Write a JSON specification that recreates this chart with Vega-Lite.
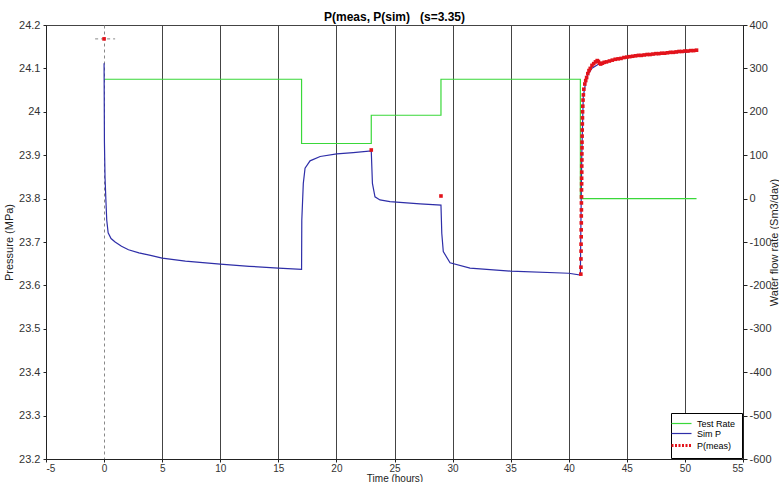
{
  "$schema": "https://vega.github.io/schema/vega-lite/v6.json",
  "autosize": {"type": "none"},
  "width": 697,
  "height": 434,
  "padding": {"left": 46, "top": 25, "right": 36, "bottom": 23},
  "background": "#ffffff",
  "title": {"text": "P(meas, P(sim)\u00a0\u00a0\u00a0(s=3.35)", "font": "Liberation Sans", "fontSize": 12, "fontWeight": "bold", "color": "#000000", "anchor": "middle", "offset": -5},
  "config": {
    "view": {"stroke": "#444444", "strokeWidth": 1},
    "axis": {"labelFont": "Liberation Sans", "labelFontSize": 11, "labelColor": "#333333", "titleFont": "Liberation Sans", "titleFontSize": 11, "titleFontWeight": "normal", "titleColor": "#222222", "domainColor": "#222222", "tickColor": "#222222", "tickSize": 4, "labelPadding": 2}
  },
  "datasets": {
    "rate": [
      {"t": 0, "q": 275, "s": "Test Rate"},
      {"t": 17, "q": 275, "s": "Test Rate"},
      {"t": 17, "q": 127, "s": "Test Rate"},
      {"t": 23, "q": 127, "s": "Test Rate"},
      {"t": 23, "q": 192, "s": "Test Rate"},
      {"t": 29, "q": 192, "s": "Test Rate"},
      {"t": 29, "q": 275, "s": "Test Rate"},
      {"t": 41, "q": 275, "s": "Test Rate"},
      {"t": 41, "q": 0, "s": "Test Rate"},
      {"t": 51, "q": 0, "s": "Test Rate"}
    ],
    "sim": [
      {"t": 0, "p": 24.112, "s": "Sim P"},
      {"t": 0.03, "p": 23.93, "s": "Sim P"},
      {"t": 0.08, "p": 23.85, "s": "Sim P"},
      {"t": 0.15, "p": 23.80, "s": "Sim P"},
      {"t": 0.23, "p": 23.75, "s": "Sim P"},
      {"t": 0.35, "p": 23.721, "s": "Sim P"},
      {"t": 0.6, "p": 23.708, "s": "Sim P"},
      {"t": 0.95, "p": 23.700, "s": "Sim P"},
      {"t": 1.5, "p": 23.690, "s": "Sim P"},
      {"t": 2.1, "p": 23.682, "s": "Sim P"},
      {"t": 3, "p": 23.675, "s": "Sim P"},
      {"t": 4, "p": 23.669, "s": "Sim P"},
      {"t": 5, "p": 23.663, "s": "Sim P"},
      {"t": 7, "p": 23.656, "s": "Sim P"},
      {"t": 10, "p": 23.649, "s": "Sim P"},
      {"t": 12.5, "p": 23.644, "s": "Sim P"},
      {"t": 15, "p": 23.640, "s": "Sim P"},
      {"t": 17, "p": 23.637, "s": "Sim P"},
      {"t": 17.02, "p": 23.75, "s": "Sim P"},
      {"t": 17.15, "p": 23.835, "s": "Sim P"},
      {"t": 17.3, "p": 23.870, "s": "Sim P"},
      {"t": 17.73, "p": 23.887, "s": "Sim P"},
      {"t": 18.6, "p": 23.897, "s": "Sim P"},
      {"t": 20.03, "p": 23.903, "s": "Sim P"},
      {"t": 21.45, "p": 23.906, "s": "Sim P"},
      {"t": 23, "p": 23.910, "s": "Sim P"},
      {"t": 23.1, "p": 23.835, "s": "Sim P"},
      {"t": 23.32, "p": 23.804, "s": "Sim P"},
      {"t": 23.75, "p": 23.797, "s": "Sim P"},
      {"t": 24.61, "p": 23.793, "s": "Sim P"},
      {"t": 27.2, "p": 23.788, "s": "Sim P"},
      {"t": 29, "p": 23.785, "s": "Sim P"},
      {"t": 29.07, "p": 23.72, "s": "Sim P"},
      {"t": 29.2, "p": 23.678, "s": "Sim P"},
      {"t": 29.78, "p": 23.652, "s": "Sim P"},
      {"t": 31.5, "p": 23.640, "s": "Sim P"},
      {"t": 35, "p": 23.633, "s": "Sim P"},
      {"t": 40, "p": 23.628, "s": "Sim P"},
      {"t": 41, "p": 23.624, "s": "Sim P"},
      {"t": 41.05, "p": 23.75, "s": "Sim P"},
      {"t": 41.12, "p": 23.90, "s": "Sim P"},
      {"t": 41.25, "p": 24.035, "s": "Sim P"},
      {"t": 41.54, "p": 24.081, "s": "Sim P"},
      {"t": 41.97, "p": 24.100, "s": "Sim P"},
      {"t": 42.69, "p": 24.112, "s": "Sim P"},
      {"t": 43.83, "p": 24.119, "s": "Sim P"},
      {"t": 44.98, "p": 24.126, "s": "Sim P"},
      {"t": 47.27, "p": 24.132, "s": "Sim P"},
      {"t": 50.15, "p": 24.138, "s": "Sim P"},
      {"t": 51, "p": 24.141, "s": "Sim P"}
    ],
    "meas": [
      {"t": 0, "p": 24.168, "s": "P(meas)"},
      {"t": 23, "p": 23.912, "s": "P(meas)"},
      {"t": 29, "p": 23.806, "s": "P(meas)"},
      {"t": 41.04, "p": 23.626, "s": "P(meas)"},
      {"t": 41.05, "p": 23.642, "s": "P(meas)"},
      {"t": 41.05, "p": 23.661, "s": "P(meas)"},
      {"t": 41.06, "p": 23.679, "s": "P(meas)"},
      {"t": 41.06, "p": 23.695, "s": "P(meas)"},
      {"t": 41.07, "p": 23.712, "s": "P(meas)"},
      {"t": 41.07, "p": 23.728, "s": "P(meas)"},
      {"t": 41.08, "p": 23.744, "s": "P(meas)"},
      {"t": 41.08, "p": 23.760, "s": "P(meas)"},
      {"t": 41.09, "p": 23.774, "s": "P(meas)"},
      {"t": 41.09, "p": 23.790, "s": "P(meas)"},
      {"t": 41.10, "p": 23.804, "s": "P(meas)"},
      {"t": 41.10, "p": 23.820, "s": "P(meas)"},
      {"t": 41.11, "p": 23.834, "s": "P(meas)"},
      {"t": 41.11, "p": 23.847, "s": "P(meas)"},
      {"t": 41.12, "p": 23.861, "s": "P(meas)"},
      {"t": 41.12, "p": 23.875, "s": "P(meas)"},
      {"t": 41.13, "p": 23.889, "s": "P(meas)"},
      {"t": 41.13, "p": 23.903, "s": "P(meas)"},
      {"t": 41.14, "p": 23.917, "s": "P(meas)"},
      {"t": 41.14, "p": 23.930, "s": "P(meas)"},
      {"t": 41.15, "p": 23.944, "s": "P(meas)"},
      {"t": 41.16, "p": 23.958, "s": "P(meas)"},
      {"t": 41.17, "p": 23.972, "s": "P(meas)"},
      {"t": 41.18, "p": 23.986, "s": "P(meas)"},
      {"t": 41.19, "p": 24.000, "s": "P(meas)"},
      {"t": 41.21, "p": 24.013, "s": "P(meas)"},
      {"t": 41.23, "p": 24.027, "s": "P(meas)"},
      {"t": 41.26, "p": 24.039, "s": "P(meas)"},
      {"t": 41.30, "p": 24.052, "s": "P(meas)"},
      {"t": 41.38, "p": 24.064, "s": "P(meas)"},
      {"t": 41.46, "p": 24.072, "s": "P(meas)"},
      {"t": 41.54, "p": 24.079, "s": "P(meas)"},
      {"t": 41.64, "p": 24.088, "s": "P(meas)"},
      {"t": 41.74, "p": 24.095, "s": "P(meas)"},
      {"t": 41.85, "p": 24.100, "s": "P(meas)"},
      {"t": 42.0, "p": 24.107, "s": "P(meas)"},
      {"t": 42.15, "p": 24.111, "s": "P(meas)"},
      {"t": 42.3, "p": 24.115, "s": "P(meas)"},
      {"t": 42.45, "p": 24.118, "s": "P(meas)"},
      {"t": 42.55, "p": 24.116, "s": "P(meas)"},
      {"t": 42.65, "p": 24.112, "s": "P(meas)"},
      {"t": 42.75, "p": 24.110, "s": "P(meas)"},
      {"t": 42.9, "p": 24.112, "s": "P(meas)"},
      {"t": 43.05, "p": 24.114, "s": "P(meas)"},
      {"t": 43.25, "p": 24.115, "s": "P(meas)"},
      {"t": 43.5, "p": 24.117, "s": "P(meas)"},
      {"t": 43.75, "p": 24.119, "s": "P(meas)"},
      {"t": 44.0, "p": 24.121, "s": "P(meas)"},
      {"t": 44.25, "p": 24.122, "s": "P(meas)"},
      {"t": 44.5, "p": 24.123, "s": "P(meas)"},
      {"t": 44.75, "p": 24.125, "s": "P(meas)"},
      {"t": 45.0, "p": 24.126, "s": "P(meas)"},
      {"t": 45.25, "p": 24.127, "s": "P(meas)"},
      {"t": 45.5, "p": 24.128, "s": "P(meas)"},
      {"t": 45.75, "p": 24.129, "s": "P(meas)"},
      {"t": 46.0, "p": 24.130, "s": "P(meas)"},
      {"t": 46.25, "p": 24.130, "s": "P(meas)"},
      {"t": 46.5, "p": 24.131, "s": "P(meas)"},
      {"t": 46.75, "p": 24.132, "s": "P(meas)"},
      {"t": 47.0, "p": 24.132, "s": "P(meas)"},
      {"t": 47.25, "p": 24.133, "s": "P(meas)"},
      {"t": 47.5, "p": 24.134, "s": "P(meas)"},
      {"t": 47.75, "p": 24.134, "s": "P(meas)"},
      {"t": 48.0, "p": 24.135, "s": "P(meas)"},
      {"t": 48.25, "p": 24.135, "s": "P(meas)"},
      {"t": 48.5, "p": 24.136, "s": "P(meas)"},
      {"t": 48.75, "p": 24.137, "s": "P(meas)"},
      {"t": 49.0, "p": 24.137, "s": "P(meas)"},
      {"t": 49.25, "p": 24.138, "s": "P(meas)"},
      {"t": 49.5, "p": 24.139, "s": "P(meas)"},
      {"t": 49.75, "p": 24.139, "s": "P(meas)"},
      {"t": 50.0, "p": 24.140, "s": "P(meas)"},
      {"t": 50.25, "p": 24.140, "s": "P(meas)"},
      {"t": 50.5, "p": 24.141, "s": "P(meas)"},
      {"t": 50.75, "p": 24.141, "s": "P(meas)"},
      {"t": 51.0, "p": 24.142, "s": "P(meas)"}
    ],
    "cross": [
      {"t": -0.77, "t2": 0.95, "p": 24.168}
    ]
  },
  "encoding": {
    "x": {
      "field": "t", "type": "quantitative",
      "scale": {"domain": [-5, 55], "nice": false, "zero": false},
      "axis": {
        "title": "Time (hours)", "titlePadding": 0, "titleFontSize": 10,
        "values": [-5, 0, 5, 10, 15, 20, 25, 30, 35, 40, 45, 50, 55],
        "labelExpr": "'' + datum.value",
        "labelPadding": 1, "labelFontSize": 10, "tickSize": 3,
        "grid": true,
        "gridColor": {"condition": {"test": "datum.value === 0", "value": "#888888"}, "value": "#444444"},
        "gridDash": {"condition": {"test": "datum.value === 0", "value": [3, 3]}, "value": []},
        "gridWidth": 1
      }
    }
  },
  "layer": [
    {
      "data": {"name": "rate"},
      "mark": {"type": "line", "strokeWidth": 1.2, "interpolate": "linear"},
      "encoding": {
        "y": {
          "field": "q", "type": "quantitative",
          "scale": {"domain": [-600, 400], "nice": false, "zero": false},
          "axis": {"orient": "right", "title": "Water flow rate (Sm3/day)", "titleAngle": 270, "titleBaseline": "middle", "titleX": 31, "values": [400, 300, 200, 100, 0, -100, -200, -300, -400, -500, -600], "labelExpr": "'' + datum.value", "grid": false}
        },
        "color": {
          "field": "s", "type": "nominal",
          "scale": {"domain": ["Test Rate", "Sim P", "P(meas)"], "range": ["#3ad83a", "#2e2ea8", "#e3131b"]},
          "legend": {
            "title": null, "orient": "bottom-right", "offset": 1, "padding": 6,
            "strokeColor": "#000000", "fillColor": "#ffffff",
            "labelFont": "Liberation Sans", "labelFontSize": 9, "labelColor": "#000000",
            "symbolType": "stroke", "symbolSize": 400, "symbolStrokeWidth": 1.2,
            "rowPadding": 0, "labelOffset": 11,
            "encode": {"symbols": {"update": {
              "strokeDash": {"signal": "datum.value === 'P(meas)' ? [2, 1.5] : []"},
              "strokeWidth": {"signal": "datum.value === 'P(meas)' ? 3 : 1.2"}
            }}}
          }
        }
      }
    },
    {
      "layer": [
        {
          "data": {"name": "cross"},
          "mark": {"type": "rule", "color": "#888888", "strokeDash": [3, 3], "strokeWidth": 1},
          "encoding": {"x2": {"field": "t2"}, "y": {"field": "p", "type": "quantitative"}}
        },
        {
          "data": {"name": "sim"},
          "mark": {"type": "line", "strokeWidth": 1.2, "interpolate": "linear"},
          "encoding": {
            "y": {"field": "p", "type": "quantitative"},
            "color": {"field": "s", "type": "nominal", "legend": null}
          }
        },
        {
          "data": {"name": "meas"},
          "mark": {"type": "square", "size": 13, "opacity": 1},
          "encoding": {
            "y": {"field": "p", "type": "quantitative"},
            "color": {"field": "s", "type": "nominal", "legend": null}
          }
        }
      ],
      "encoding": {
        "y": {
          "field": "p", "type": "quantitative",
          "scale": {"domain": [23.2, 24.2], "nice": false, "zero": false},
          "axis": {"orient": "left", "title": "Pressure (MPa)", "titlePadding": 4, "values": [23.2, 23.3, 23.4, 23.5, 23.6, 23.7, 23.8, 23.9, 24, 24.1, 24.2], "labelExpr": "'' + datum.value", "grid": false, "tickSize": 3, "labelPadding": 3}
        }
      }
    }
  ],
  "resolve": {"scale": {"y": "independent"}}
}
